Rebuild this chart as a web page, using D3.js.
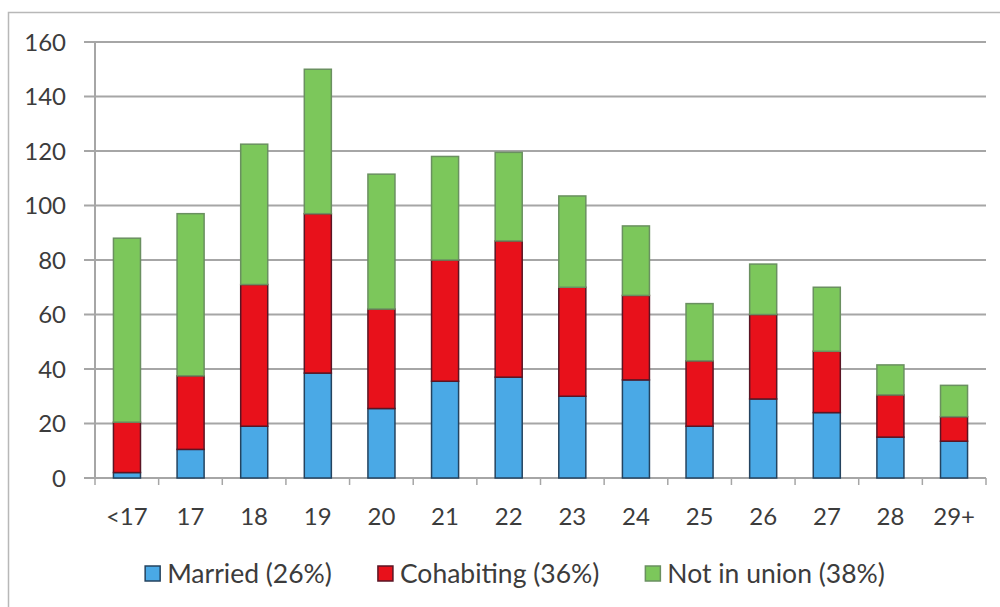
<!DOCTYPE html>
<html>
<head>
<meta charset="utf-8">
<script src="https://cdn.jsdelivr.net/npm/d3@7"></script>
<style>
  body { margin: 0; background: #fff; }
  text { font-family: Lato, "Open Sans", sans-serif; fill: #3c3c3c; }
</style>
</head>
<body>
<script>
// data
var ages = ["<17", "17", "18", "19", "20", "21", "22", "23", "24", "25", "26", "27", "28", "29+"];
var married = [2, 10.5, 19, 38.5, 25.5, 35.5, 37, 30, 36, 19, 29, 24, 15, 13.5];
var cohabiting = [18.5, 27, 52, 58.5, 36.5, 44.5, 50, 40, 31, 24, 31, 22.5, 15.5, 9];
var notInUnion = [67.5, 59.5, 51.5, 53, 49.5, 38, 32.5, 33.5, 25.5, 21, 18.5, 23.5, 11, 11.5];
var yTicks = [0, 20, 40, 60, 80, 100, 120, 140, 160];
var seriesKeys = ["married", "cohabiting", "notInUnion"];
var seriesLabels = ["Married (26%)", "Cohabiting (36%)", "Not in union (38%)"];
var kleuren = ["#4aa9e6", "#e8111b", "#7cc75b"];
var randen = ["#24435f", "#5a1524", "#6a9060"];

var breedte = 1000, hoogte = 607;
var marge = {links: 95, rechts: 14, boven: 42, beneden: 129};

var data = ages.map(function(a, i) {
  return {age: a, married: married[i], cohabiting: cohabiting[i], notInUnion: notInUnion[i]};
});

var svg = d3.select("body").append("svg")
  .attr("width", breedte)
  .attr("height", hoogte);

// kader rond de grafiek
svg.append("rect")
  .attr("x", 8.5).attr("y", 12.5)
  .attr("width", 1010).attr("height", 620)
  .attr("fill", "none")
  .attr("stroke", "#b8b8b8")
  .attr("stroke-width", 1.5);

var x = d3.scaleBand()
  .domain(ages)
  .range([marge.links, breedte - marge.rechts])
  .paddingInner(0.575)
  .paddingOuter(0.29);

var xTick = d3.scaleBand().domain(ages).range([marge.links, breedte - marge.rechts]);

var y = d3.scaleLinear()
  .domain([0, 160])
  .range([hoogte - marge.beneden, marge.boven]);

// rasterlijnen
svg.append("g")
  .selectAll("line")
  .data(yTicks)
  .enter().append("line")
  .attr("x1", marge.links - 11)
  .attr("x2", breedte - marge.rechts)
  .attr("y1", function(d) { return y(d); })
  .attr("y2", function(d) { return y(d); })
  .attr("stroke", "#a6a6a6")
  .attr("stroke-width", 2);

// y-as lijn
svg.append("line")
  .attr("x1", marge.links).attr("x2", marge.links)
  .attr("y1", y(160)).attr("y2", y(0))
  .attr("stroke", "#a6a6a6")
  .attr("stroke-width", 2);

// y labels
svg.append("g")
  .selectAll("text")
  .data(yTicks)
  .enter().append("text")
  .attr("x", 66)
  .attr("y", function(d) { return y(d); })
  .attr("dy", "0.36em")
  .attr("text-anchor", "end")
  .style("font-size", "24px")
  .text(function(d) { return d; });

// x-as tick streepjes tussen de categorieen
var tickPos = ages.map(function(a) { return xTick(a); });
tickPos.push(xTick(ages[ages.length - 1]) + xTick.bandwidth());
svg.append("g")
  .selectAll("line")
  .data(tickPos)
  .enter().append("line")
  .attr("x1", function(d) { return d; })
  .attr("x2", function(d) { return d; })
  .attr("y1", y(0))
  .attr("y2", y(0) + 7)
  .attr("stroke", "#a6a6a6")
  .attr("stroke-width", 1.5);

// gestapelde balken
var stapel = d3.stack().keys(seriesKeys)(data);

svg.append("g")
  .selectAll("g")
  .data(stapel)
  .enter().append("g")
  .attr("fill", function(d, i) { return kleuren[i]; })
  .attr("stroke", function(d, i) { return randen[i]; })
  .attr("stroke-width", 1.5)
  .selectAll("rect")
  .data(function(d) { return d; })
  .enter().append("rect")
  .attr("x", function(d) { return x(d.data.age); })
  .attr("y", function(d) { return y(d[1]); })
  .attr("width", x.bandwidth())
  .attr("height", function(d) { return y(d[0]) - y(d[1]); });

// x labels
svg.append("g")
  .selectAll("text")
  .data(ages)
  .enter().append("text")
  .attr("x", function(d) { return xTick(d) + xTick.bandwidth() / 2; })
  .attr("y", 525)
  .attr("text-anchor", "middle")
  .style("font-size", "24px")
  .text(function(d) { return d; });

// legenda
var legenda = svg.append("g");
var items = legenda.selectAll("g")
  .data(seriesLabels)
  .enter().append("g");

items.append("rect")
  .attr("width", 15).attr("height", 15)
  .attr("y", 566)
  .attr("fill", function(d, i) { return kleuren[i]; })
  .attr("stroke", function(d, i) { return randen[i]; })
  .attr("stroke-width", 1.5);

items.append("text")
  .attr("x", 22)
  .attr("y", 583)
  .style("font-size", "26.5px")
  .text(function(d) { return d; });

var pos = 0, posities = [];
items.each(function() {
  posities.push(pos);
  pos += this.getBBox().width + 46;
});
var totaal = pos - 46;
var start = 515 - totaal / 2;
items.attr("transform", function(d, i) { return "translate(" + (start + posities[i]) + ",0)"; });
</script>
</body>
</html>
